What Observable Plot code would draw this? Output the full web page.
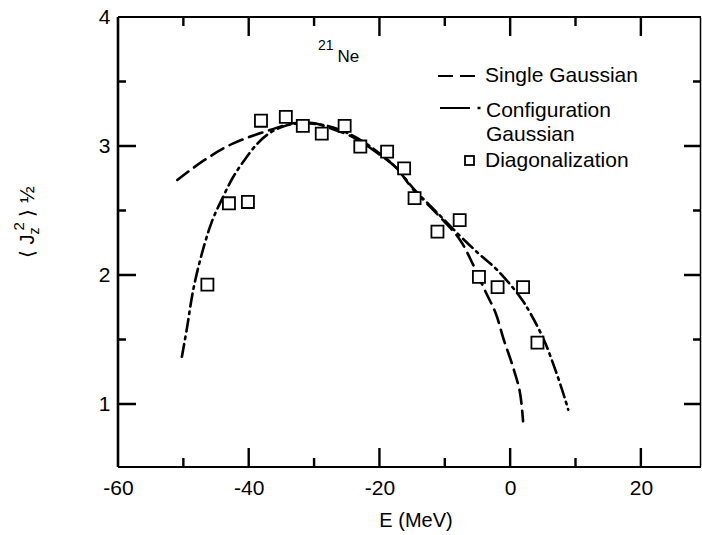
<!DOCTYPE html>
<html>
<head>
<meta charset="utf-8">
<script src="https://cdn.jsdelivr.net/npm/d3@7"></script>
<script src="https://cdn.jsdelivr.net/npm/@observablehq/plot@0.6"></script>
</head>
<body style="margin:0;background:white">
<div id="chart"></div>
<script>
// ---- data ----
const singleE = [-51, -47, -42.6, -36.7, -33.2, -30, -27.5, -24, -20.4, -17.6, -14.8, -11.3, -7.8, -5.8, -3.8, -2.3, -1.1, 0.3, 1.4, 1.9];
const singleJ = [2.74, 2.89, 3.02, 3.13, 3.18, 3.18, 3.14, 3.07, 2.95, 2.84, 2.66, 2.48, 2.28, 2.09, 1.87, 1.71, 1.51, 1.30, 1.10, 0.87];

const configE = [-50.3, -49.5, -48.6, -47.4, -45.7, -44, -42.5, -40.8, -38.8, -37, -34.5, -32, -28, -24, -20.4, -17.6, -14.8, -11.3, -7.8, -4.9, -2.0, 1.5, 3.1, 5.1, 6.9, 8.4, 8.8];
const configJ = [1.37, 1.60, 1.88, 2.14, 2.42, 2.61, 2.76, 2.89, 3.02, 3.10, 3.16, 3.18, 3.16, 3.08, 2.96, 2.84, 2.67, 2.49, 2.31, 2.17, 2.04, 1.83, 1.70, 1.50, 1.26, 1.03, 0.96];

const diagE = [-46.4, -43.1, -40.2, -38.2, -34.4, -31.8, -28.9, -25.4, -23.0, -18.9, -16.3, -14.7, -11.2, -7.8, -4.85, -2.0, 1.9, 4.1];
const diagJ = [1.93, 2.56, 2.57, 3.20, 3.23, 3.16, 3.10, 3.16, 3.00, 2.96, 2.83, 2.60, 2.34, 2.43, 1.99, 1.91, 1.91, 1.48];

const xLabelTicks = [-60, -40, -20, 0, 20];
const xMajorTicks = [-40, -20, 0, 20];
const xMinorTicks = [-50, -30, -10, 10];
const yLabelTicks = [1, 2, 3, 4];
const yMajorTicks = [1, 2, 3];
const yMinorTicks = [1.5, 2.5, 3.5];
const xDomain = [-60, 29.2];
const yDomain = [0.512, 4];

const single = singleE.map((e, i) => ({E: e, J: singleJ[i]}));
const config = configE.map((e, i) => ({E: e, J: configJ[i]}));
const diag = diagE.map((e, i) => ({E: e, J: diagJ[i]}));

const W = 702, H = 535, mL = 118, mR = 1, mT = 17, mB = 68;
const FONT = "Liberation Sans, Arial, Helvetica, sans-serif";

const plot = Plot.plot({
  width: W,
  height: H,
  marginLeft: mL,
  marginRight: mR,
  marginTop: mT,
  marginBottom: mB,
  style: {fontFamily: FONT, fontSize: "21px", color: "black", background: "white"},
  x: {domain: xDomain},
  y: {domain: yDomain},
  marks: [
    Plot.axisX({ticks: xLabelTicks, tickSize: 0, tickPadding: 13, tickFormat: d => String(d), label: null, fontSize: 21}),
    Plot.axisY({ticks: yLabelTicks, tickSize: 0, tickPadding: 8, tickFormat: d => String(d), label: null, fontSize: 21}),
    Plot.line(single, {x: "E", y: "J", curve: "catmull-rom", stroke: "black", strokeWidth: 2.6, strokeDasharray: "14,7"}),
    Plot.line(config, {x: "E", y: "J", curve: "catmull-rom", stroke: "black", strokeWidth: 2.6, strokeDasharray: "13,5,2.5,5"}),
    Plot.dot(diag, {x: "E", y: "J", symbol: "square", r: 6.8, fill: "white", stroke: "black", strokeWidth: 1.8})
  ]
});

document.getElementById("chart").appendChild(plot);

const svg = d3.select(plot);
const sx = plot.scale("x"), sy = plot.scale("y");
const X = v => sx.apply(v), Y = v => sy.apply(v);
const yB = Y(yDomain[0]), yT = Y(yDomain[1]), xL = X(xDomain[0]), xR = X(xDomain[1]);

// frame and inward ticks as one path, positioned through Plot's scales
let p = "";
xMajorTicks.forEach(v => { const x = X(v); p += `M${x},${yB}V${yB - 19}M${x},${yT}V${yT + 19}`; });
xMinorTicks.forEach(v => { const x = X(v); p += `M${x},${yB}V${yB - 9}M${x},${yT}V${yT + 9}`; });
yMajorTicks.forEach(v => { const y = Y(v); p += `M${xL},${y}H${xL + 18}M${xR},${y}H${xR - 17}`; });
yMinorTicks.forEach(v => { const y = Y(v); p += `M${xL},${y}H${xL + 8}M${xR},${y}H${xR - 8}`; });
svg.append("path").attr("d", p).attr("fill", "none").attr("stroke", "#000").attr("stroke-width", 2.4);
svg.append("path").attr("d", `M${xL},${yT}V${yB}`).attr("fill", "none").attr("stroke", "#000").attr("stroke-width", 2.6);
svg.append("path").attr("d", `M${xL},${yT}H${xR}`).attr("fill", "none").attr("stroke", "#000").attr("stroke-width", 2);
svg.append("path").attr("d", `M${xL},${yB}H${xR}`).attr("fill", "none").attr("stroke", "#000").attr("stroke-width", 1.8);
svg.append("path").attr("d", `M${xR - 0.5},${yT}V${yB}`).attr("fill", "none").attr("stroke", "#000").attr("stroke-width", 1.5);

// annotations as real text
const g = svg.append("g").attr("font-family", FONT).attr("fill", "black").attr("text-anchor", "start");

const ne = g.append("text").attr("x", 318).attr("y", 62);
ne.append("tspan").attr("font-size", 14).attr("dy", -12).text("21");
ne.append("tspan").attr("font-size", 17).attr("dx", 4).attr("dy", 12).text("Ne");

g.append("line").attr("x1", 438).attr("x2", 475).attr("y1", 76).attr("y2", 76)
  .attr("stroke", "black").attr("stroke-width", 2).attr("stroke-dasharray", "15,7");
g.append("text").attr("x", 485).attr("y", 82).attr("font-size", 21).text("Single Gaussian");

g.append("line").attr("x1", 440).attr("x2", 470).attr("y1", 108).attr("y2", 108)
  .attr("stroke", "black").attr("stroke-width", 2);
g.append("line").attr("x1", 477.5).attr("x2", 480.5).attr("y1", 108).attr("y2", 108)
  .attr("stroke", "black").attr("stroke-width", 2.5);
g.append("text").attr("x", 486).attr("y", 117).attr("font-size", 21).text("Configuration");
g.append("text").attr("x", 486).attr("y", 141).attr("font-size", 21).text("Gaussian");

g.append("rect").attr("x", 465).attr("y", 156).attr("width", 9).attr("height", 9)
  .attr("fill", "white").attr("stroke", "black").attr("stroke-width", 1.8);
g.append("text").attr("x", 485).attr("y", 167).attr("font-size", 21).text("Diagonalization");

g.append("text").attr("x", 416).attr("y", 527).attr("font-size", 20).attr("text-anchor", "middle").text("E (MeV)");

const yl = g.append("text").attr("transform", "translate(34,258) rotate(-90)").attr("font-size", 20);
yl.append("tspan").text("\u27E8 J");
yl.append("tspan").attr("font-size", 14).attr("dy", 5).text("z");
yl.append("tspan").attr("font-size", 15).attr("dy", -15).attr("dx", -3).text("2");
yl.append("tspan").attr("dy", 10).text(" \u27E9 \u00BD");
</script>
</body>
</html>
